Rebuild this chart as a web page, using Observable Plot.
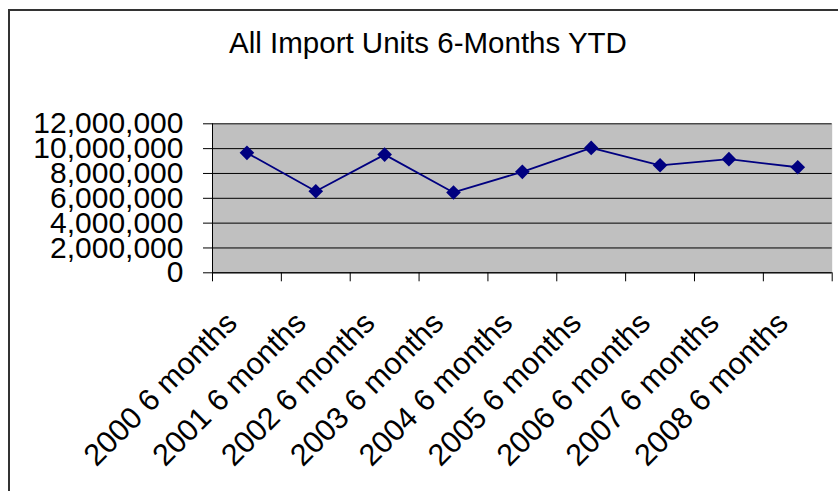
<!DOCTYPE html>
<html><head><meta charset="utf-8">
<script src="https://cdn.jsdelivr.net/npm/d3@7"></script>
<script src="https://cdn.jsdelivr.net/npm/@observablehq/plot@0.6"></script>
<style>
html,body{margin:0;padding:0;background:#fff;}
#wrap{position:relative;width:838px;height:491px;overflow:hidden;font-family:"Liberation Sans",Arial,sans-serif;}
#border{position:absolute;left:8px;top:9px;width:1000px;height:1000px;border-left:2px solid #333;border-top:2px solid #333;pointer-events:none}
#title{height:100px;position:relative}
#title span{position:absolute;left:0;width:856px;text-align:center;top:28px;font-size:29.5px;line-height:29.5px;color:#000;white-space:nowrap}
#chart svg{display:block}
</style></head>
<body><div id="wrap"><div id="title"><span>All Import Units 6-Months YTD</span></div><div id="chart"></div><div id="border"></div></div>
<script>
const categories = ["2000 6 months","2001 6 months","2002 6 months","2003 6 months","2004 6 months","2005 6 months","2006 6 months","2007 6 months","2008 6 months"];
const values = [9660000, 6570000, 9520000, 6470000, 8130000, 10060000, 8660000, 9150000, 8500000];
const yTicks = [0, 2000000, 4000000, 6000000, 8000000, 10000000, 12000000];

const data = categories.map((c, i) => ({i, c, v: values[i]}));
const idx = categories.map((_, i) => i);
const bounds = [-0.5, ...idx.map(i => i + 0.5)];

const chart = Plot.plot({
  width: 838, height: 391,
  marginTop: 23.3, marginBottom: 218.7, marginLeft: 212, marginRight: 6.3,
  style: {fontFamily: '"Liberation Sans", Arial, sans-serif', fontSize: "30px", color: "#000", background: "transparent", overflow: "visible"},
  x: {type: "linear", domain: [-0.5, categories.length - 0.5], label: null},
  y: {domain: [0, 12000000], label: null},
  marks: [
    Plot.frame({fill: "#c0c0c0", stroke: null}),
    Plot.gridY(yTicks, {stroke: "#000", strokeOpacity: 1, strokeWidth: 1}),
    Plot.ruleY([0], {stroke: "#000"}),
    Plot.ruleX([-0.5], {stroke: "#000"}),
    Plot.axisY(yTicks, {tickSize: 9, tickPadding: 20, tickFormat: d3.format(","), label: null}),
    Plot.axisX(bounds, {tickSize: 9, tickFormat: () => "", label: null}),
    Plot.axisX(idx, {tickSize: 0, tickRotate: -45, tickPadding: 10, dx: -15, dy: 35, fontSize: 30.5, tickFormat: i => categories[i], label: null}),
    Plot.line(data, {x: "i", y: "v", stroke: "#000080", strokeWidth: 1.8}),
    Plot.dot(data, {x: "i", y: "v", symbol: "diamond2", r: 6.6, fill: "#000080", stroke: "none"})
  ]
});
document.getElementById("chart").appendChild(chart);
</script>
</body></html>
